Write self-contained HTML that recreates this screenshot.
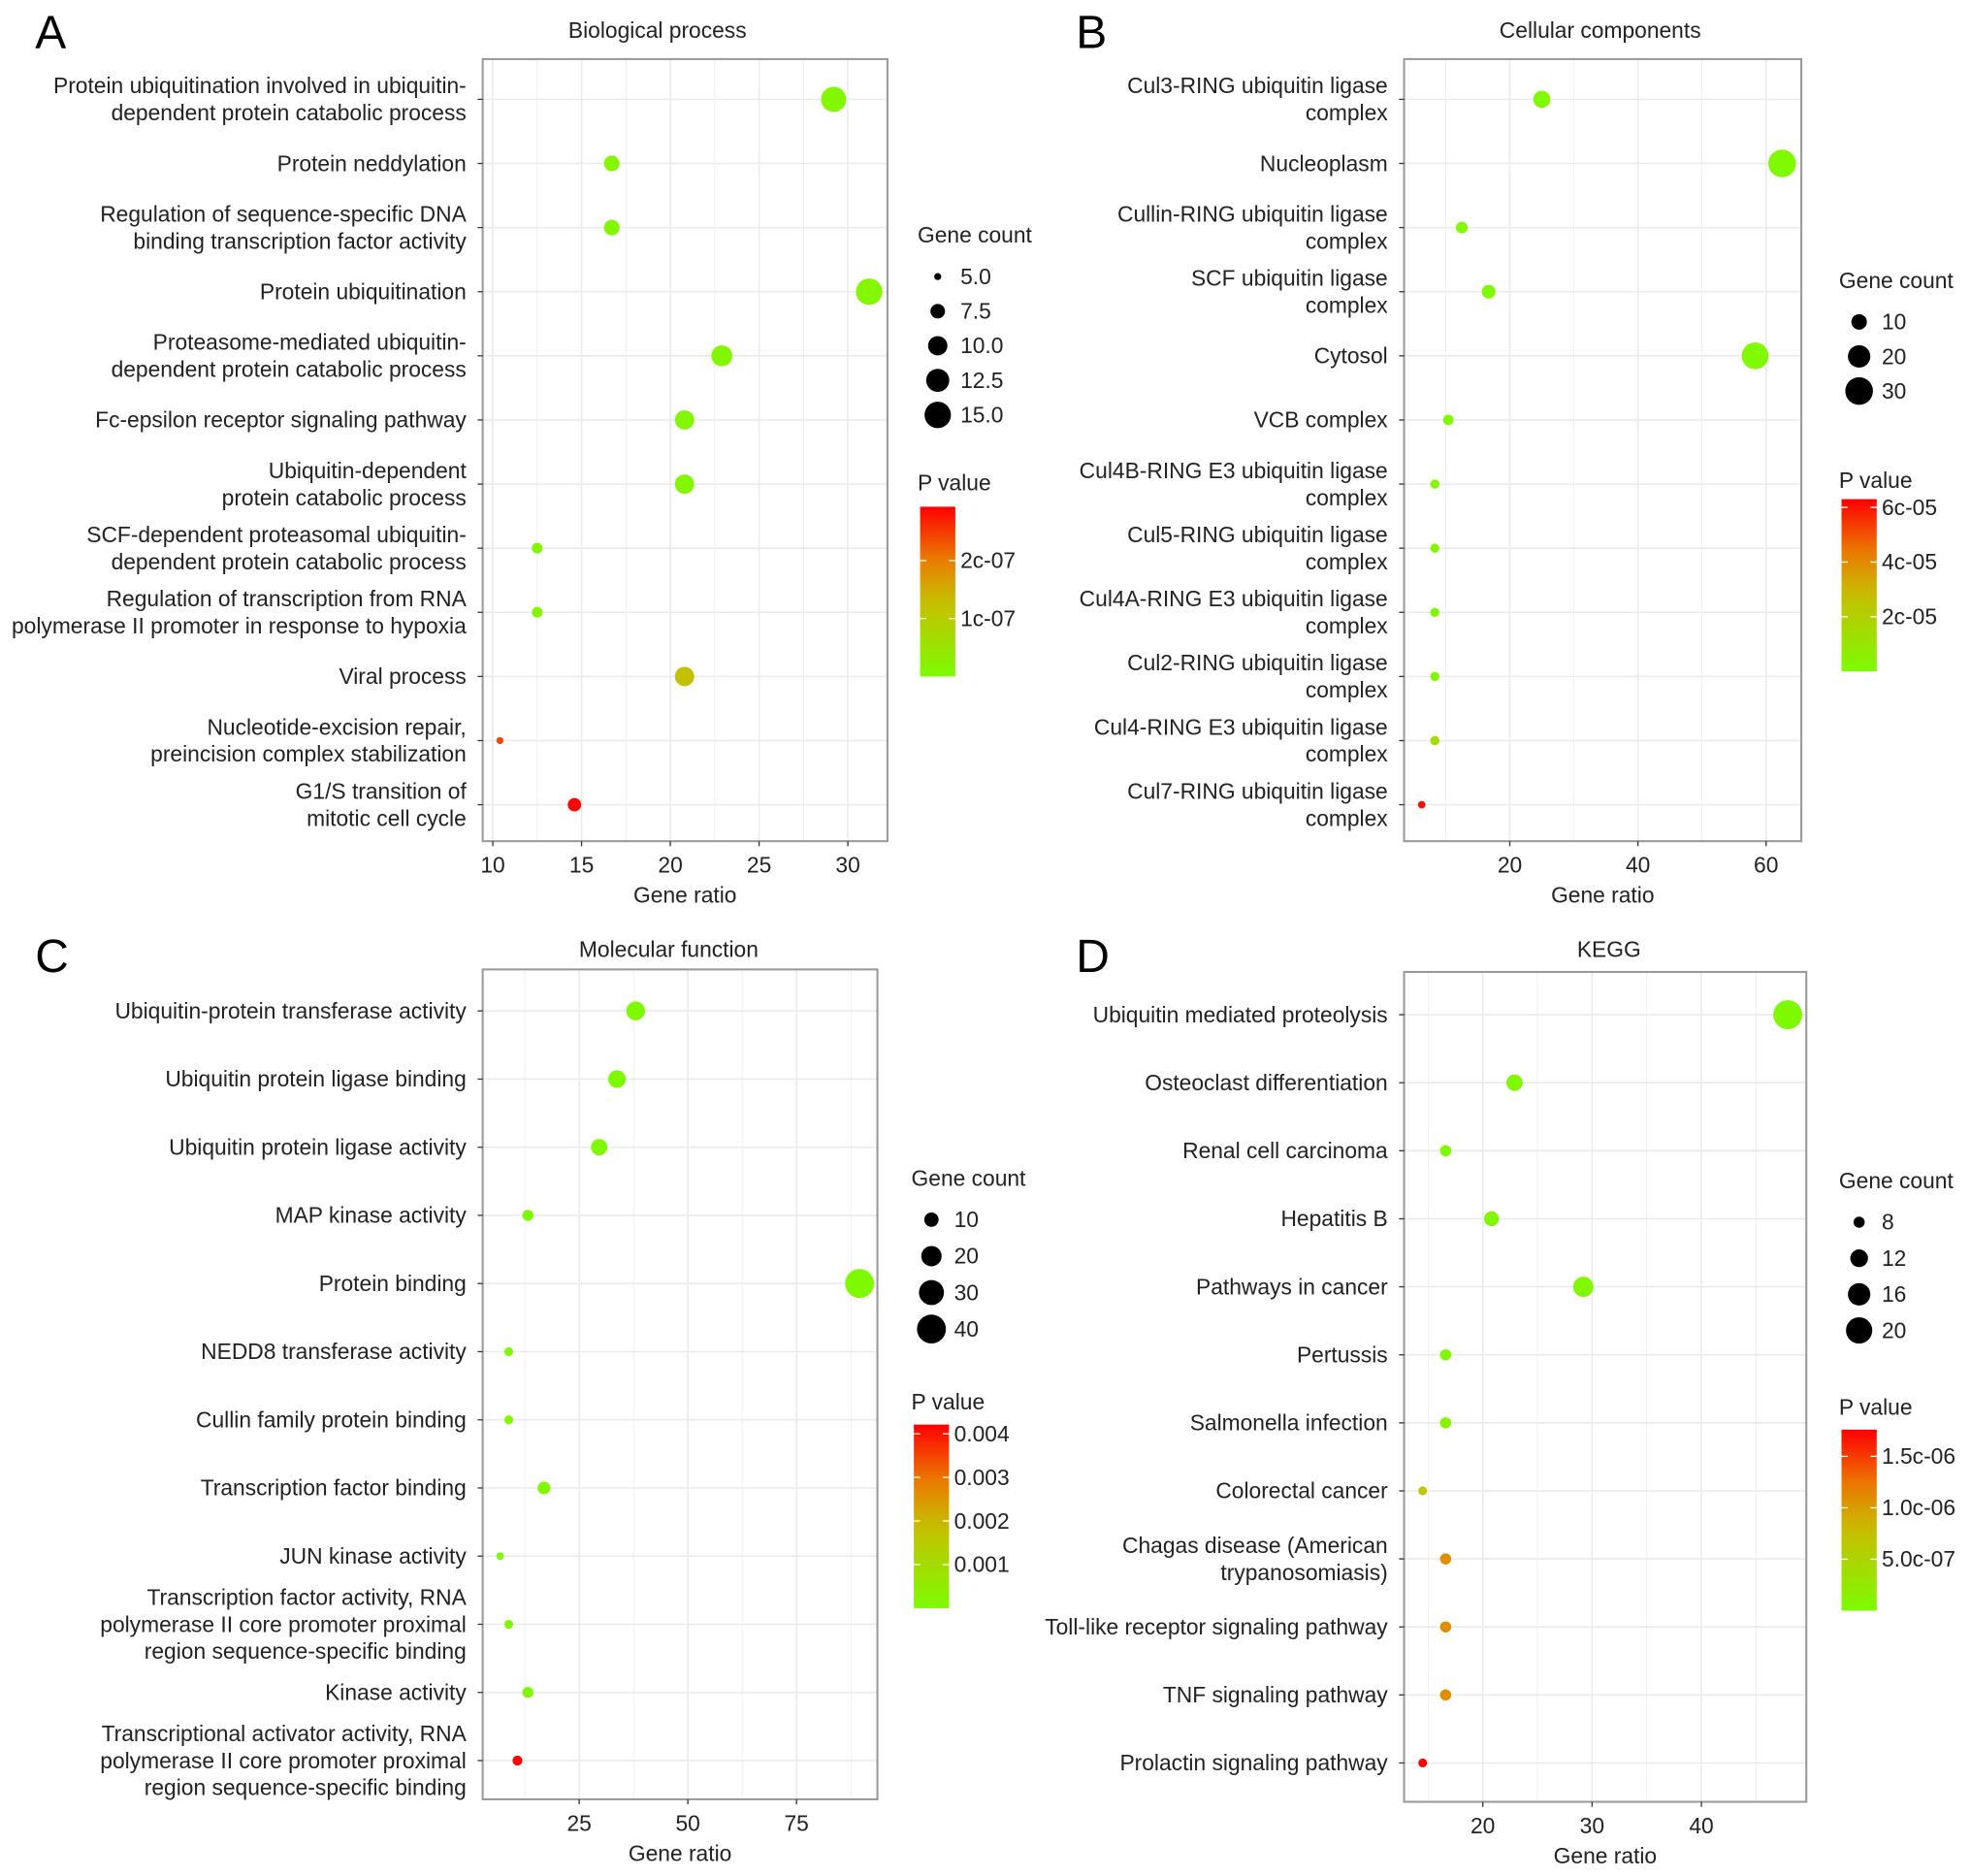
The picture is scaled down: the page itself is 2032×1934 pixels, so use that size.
<!DOCTYPE html>
<html><head><meta charset="utf-8"><style>
html,body{margin:0;padding:0;background:#fff;}
svg{display:block;font-family:"Liberation Sans",Arial,sans-serif;}
</style></head><body>
<svg id="fig" width="2032" height="1934" viewBox="0 0 1568 1492" preserveAspectRatio="none"></svg>
<script>
// ---- Panel A data ----
const catsA = ["Protein ubiquitination involved in ubiquitin-|dependent protein catabolic process","Protein neddylation","Regulation of sequence-specific DNA|binding transcription factor activity","Protein ubiquitination","Proteasome-mediated ubiquitin-|dependent protein catabolic process","Fc-epsilon receptor signaling pathway","Ubiquitin-dependent|protein catabolic process","SCF-dependent proteasomal ubiquitin-|dependent protein catabolic process","Regulation of transcription from RNA|polymerase II promoter in response to hypoxia","Viral process","Nucleotide-excision repair,|preincision complex stabilization","G1/S transition of|mitotic cell cycle"];
const ratioA = [29.2,16.7,16.7,31.2,22.9,20.8,20.8,12.5,12.5,20.8,10.4,14.6];
const countA = [14,8,8,15,11,10,10,6,6,10,5,7];
const pA = [1e-8,1e-8,1e-8,1e-8,1e-8,1e-8,1e-8,1e-8,1e-8,1.25e-7,2.4e-7,2.9e-7];
const xticksA = [10,15,20,25,30];
const sizeLegA = ["5.0","7.5","10.0","12.5","15.0"];
const pTicksA = [2e-7,1e-7]; const pTickLabA = ["2c-07","1c-07"];
// ---- Panel B data ----
const catsB = ["Cul3-RING ubiquitin ligase|complex","Nucleoplasm","Cullin-RING ubiquitin ligase|complex","SCF ubiquitin ligase|complex","Cytosol","VCB complex","Cul4B-RING E3 ubiquitin ligase|complex","Cul5-RING ubiquitin ligase|complex","Cul4A-RING E3 ubiquitin ligase|complex","Cul2-RING ubiquitin ligase|complex","Cul4-RING E3 ubiquitin ligase|complex","Cul7-RING ubiquitin ligase|complex"];
const ratioB = [25,62.5,12.5,16.7,58.3,10.4,8.3,8.3,8.3,8.3,8.3,6.25];
const countB = [12,30,6,8,28,5,4,4,4,4,4,3];
const pB = [1e-6,1e-6,1e-6,1e-6,1e-6,1e-6,2e-6,2e-6,2e-6,3e-6,1.4e-5,6.1e-5];
const xticksB = [20,40,60];
const sizeLegB = ["10","20","30"];
const pTicksB = [6e-5,4e-5,2e-5]; const pTickLabB = ["6c-05","4c-05","2c-05"];
// ---- Panel C data ----
const catsC = ["Ubiquitin-protein transferase activity","Ubiquitin protein ligase binding","Ubiquitin protein ligase activity","MAP kinase activity","Protein binding","NEDD8 transferase activity","Cullin family protein binding","Transcription factor binding","JUN kinase activity","Transcription factor activity, RNA|polymerase II core promoter proximal|region sequence-specific binding","Kinase activity","Transcriptional activator activity, RNA|polymerase II core promoter proximal|region sequence-specific binding"];
const ratioC = [38,33.7,29.6,13.2,89.5,8.8,8.8,16.9,6.8,8.8,13.2,10.8];
const countC = [17,15,13,6,40,4,4,8,3,4,6,5];
const pC = [5e-5,5e-5,5e-5,5e-5,5e-5,5e-5,5e-5,1e-4,5e-5,5e-5,1e-4,4.2e-3];
const xticksC = [25,50,75];
const sizeLegC = ["10","20","30","40"];
const pTicksC = [0.004,0.003,0.002,0.001]; const pTickLabC = ["0.004","0.003","0.002","0.001"];
// ---- Panel D data ----
const catsD = ["Ubiquitin mediated proteolysis","Osteoclast differentiation","Renal cell carcinoma","Hepatitis B","Pathways in cancer","Pertussis","Salmonella infection","Colorectal cancer","Chagas disease (American|trypanosomiasis)","Toll-like receptor signaling pathway","TNF signaling pathway","Prolactin signaling pathway"];
const ratioD = [47.9,22.9,16.6,20.8,29.2,16.6,16.6,14.5,16.6,16.6,16.6,14.5];
const countD = [23,11,8,10,14,8,8,7,8,8,8,7];
const pD = [2e-8,5e-8,5e-8,5e-8,5e-8,5e-8,1e-7,7e-7,1.1e-6,1.1e-6,1.1e-6,1.75e-6];
const xticksD = [20,30,40];
const sizeLegD = ["8","12","16","20"];
const pTicksD = [1.5e-6,1e-6,5e-7]; const pTickLabD = ["1.5c-06","1.0c-06","5.0c-07"];

const FS=17.6;
const NS="http://www.w3.org/2000/svg";
const svg=document.getElementById('fig');
function mk(tag,attrs,parent){const e=document.createElementNS(NS,tag);for(const k in attrs)e.setAttribute(k,attrs[k]);(parent||svg).appendChild(e);return e;}
function txt(s,x,y,attrs,parent){const t=mk('text',Object.assign({x:x,y:y,fill:'#222','font-size':FS},attrs),parent);t.textContent=s;return t;}
function col(f){f=Math.max(0,Math.min(1,f));const st=[[0,124,252,0],[0.45,200,190,0],[0.7,235,120,0],[1,255,0,0]];
 for(let i=1;i<st.length;i++){if(f<=st[i][0]){const a=st[i-1],b=st[i],t=(f-a[0])/(b[0]-a[0]);return `rgb(${Math.round(a[1]+(b[1]-a[1])*t)},${Math.round(a[2]+(b[2]-a[2])*t)},${Math.round(a[3]+(b[3]-a[3])*t)})`;}}return 'red';}

function panel(o){
 const g=mk('g',{});
 
 
 const L=txt(o.letter,o.lx,o.ly,{'font-size':37,fill:'#000'},g);
 
 const T=txt(o.title,o.tx,o.ty,{'text-anchor':'middle'},g);
 
 const sx=v=>o.x0+(v-o.d0)/(o.d1-o.d0)*(o.x1-o.x0);
 const n=o.cats.length;
 const sy=i=>o.rowTop+i*o.rowStep;
 const st=o.xt[1]-o.xt[0];
 for(let v=o.xt[0]-st*1.5;v<=o.d1;v+=st/2){const x=sx(v);if(x<o.x0||x>o.x1)continue;const major=Math.abs((v-o.xt[0])/st-Math.round((v-o.xt[0])/st))<1e-6;
  const gl=mk('line',{x1:x,x2:x,y1:o.y0,y2:o.y1,stroke:'#ebebeb','stroke-width':major?1.2:0.6},g);}
 for(let i=0;i<n;i++){const gl=mk('line',{x1:o.x0,x2:o.x1,y1:sy(i),y2:sy(i),stroke:'#ebebeb','stroke-width':1.2},g);}
 const box=mk('rect',{x:o.x0,y:o.y0,width:o.x1-o.x0,height:o.y1-o.y0,fill:'none',stroke:'#9a9a9a','stroke-width':1.6},g);
 
 o.xt.forEach(v=>{const x=sx(v);mk('line',{x1:x,x2:x,y1:o.y1,y2:o.y1+4,stroke:'#333'},g);
  const t=txt(String(v),x,o.y1+25,{'text-anchor':'middle'},g);});
 const xl=txt('Gene ratio',(o.x0+o.x1)/2,o.y1+49,{'text-anchor':'middle'},g);
 
 const rad=c=>Math.sqrt(o.r0*o.r0+(o.r1*o.r1-o.r0*o.r0)*(c-o.c0)/(o.c1-o.c0));
 o.cats.forEach((c,i)=>{const y=sy(i);mk('line',{x1:o.x0-4,x2:o.x0,y1:y,y2:y,stroke:'#333'},g);
  const lines=c.split('|');const lh=21.5;const start=y+6-(lines.length-1)*lh/2;
  const t=mk('text',{x:o.x0-13,y:start,'text-anchor':'end',fill:'#222','font-size':FS},g);
  
  lines.forEach((s,k)=>{const ts=mk('tspan',{x:o.x0-13,y:start+k*lh},t);ts.textContent=s;});
  const p=mk('circle',{cx:sx(o.ratio[i]),cy:y,r:rad(o.counts[i]),fill:col(o.p[i]/o.pmax)},g);
  });
 const sl=txt('Gene count',o.lgx,o.sly,{},g);
 o.sizeLab.forEach((s,k)=>{const y=o.sly+27+k*o.slStep;const c=parseFloat(s);
  const dot=mk('circle',{cx:o.lgx+16,cy:y,r:rad(c),fill:'#000'},g);
  const t=txt(s,o.lgx+34,y+6,{},g);});
 const pl=txt('P value',o.lgx,o.ply,{},g);
 const gid='gr'+o.id;const defs=mk('defs',{},g);const lg=mk('linearGradient',{id:gid,x1:0,y1:1,x2:0,y2:0},defs);
 for(let k=0;k<=10;k++)mk('stop',{offset:k/10,'stop-color':col(k/10)},lg);
 const cb=mk('rect',{x:o.lgx+2,y:o.cbTop,width:28,height:o.cbBot-o.cbTop,fill:`url(#${gid})`},g);
 
 o.pt.forEach((v,k)=>{const y=o.cbBot-(v/o.pmax)*(o.cbBot-o.cbTop);
  mk('line',{x1:o.lgx+2,x2:o.lgx+7,y1:y,y2:y,stroke:'#fff'},g);mk('line',{x1:o.lgx+25,x2:o.lgx+30,y1:y,y2:y,stroke:'#fff'},g);
  const t=txt(o.ptl[k],o.lgx+34,y+6,{},g);});
}
panel({id:'a',letter:'A',lx:28,ly:38,title:'Biological process',tx:523,ty:30,x0:384,x1:706,y0:47,y1:669,d0:9.43,d1:32.23,xt:xticksA,
 cats:catsA,ratio:ratioA,counts:countA,p:pA,pmax:2.93e-7,rowTop:79,rowStep:51,r0:2.8,r1:10.5,c0:5,c1:15,
 lgx:730,sly:193,slStep:27.5,sizeLab:sizeLegA,ply:390,cbTop:403,cbBot:538,pt:pTicksA,ptl:pTickLabA});
panel({id:'b',letter:'B',lx:856,ly:38,title:'Cellular components',tx:1273,ty:30,x0:1117,x1:1433,y0:47,y1:669,d0:3.5,d1:65.5,xt:xticksB,
 cats:catsB,ratio:ratioB,counts:countB,p:pB,pmax:6.3e-5,rowTop:79,rowStep:51,r0:3,r1:11,c0:3,c1:30,
 lgx:1463,sly:229,slStep:27.5,sizeLab:sizeLegB,ply:388,cbTop:397,cbBot:534,pt:pTicksB,ptl:pTickLabB});
panel({id:'c',letter:'C',lx:28,ly:773,title:'Molecular function',tx:532,ty:761,x0:384,x1:698,y0:771,y1:1431,d0:2.8,d1:93.6,xt:xticksC,
 cats:catsC,ratio:ratioC,counts:countC,p:pC,pmax:0.00421,rowTop:804,rowStep:54.2,r0:3,r1:11.5,c0:3,c1:40,
 lgx:725,sly:943,slStep:29,sizeLab:sizeLegC,ply:1121,cbTop:1133,cbBot:1279,pt:pTicksC,ptl:pTickLabC});
panel({id:'d',letter:'D',lx:856,ly:773,title:'KEGG',tx:1280,ty:761,x0:1117,x1:1437,y0:773,y1:1433,d0:12.8,d1:49.6,xt:xticksD,
 cats:catsD,ratio:ratioD,counts:countD,p:pD,pmax:1.76e-6,rowTop:807,rowStep:54.1,r0:3.5,r1:11.5,c0:7,c1:23,
 lgx:1463,sly:945,slStep:28.7,sizeLab:sizeLegD,ply:1125,cbTop:1137,cbBot:1281,pt:pTicksD,ptl:pTickLabD});
</script>
</body></html>
